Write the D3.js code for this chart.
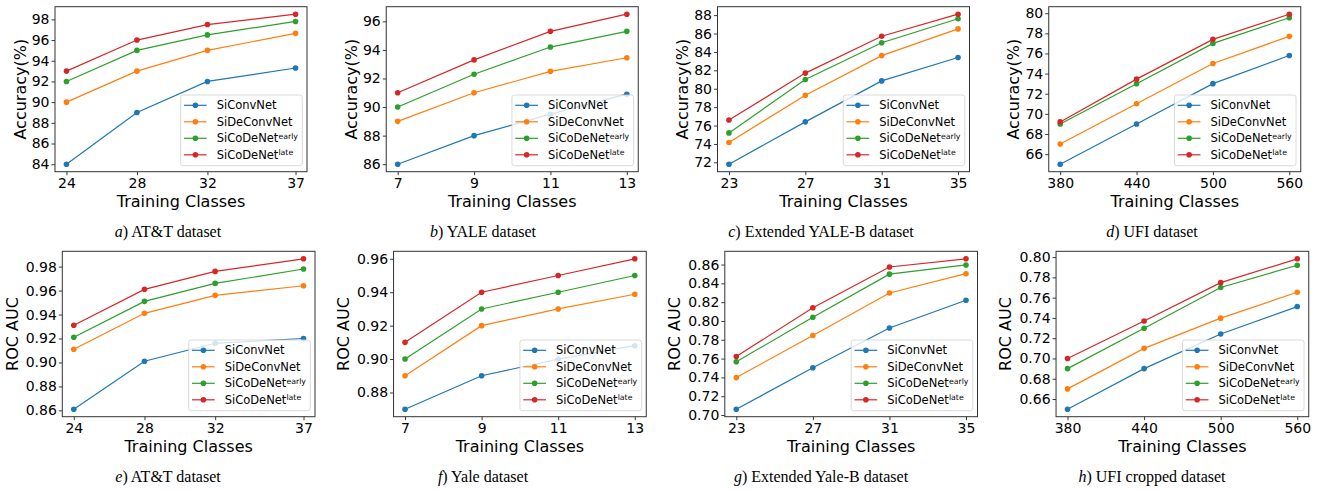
<!DOCTYPE html>
<html>
<head>
<meta charset="utf-8">
<script src="https://cdn.jsdelivr.net/npm/d3@7"></script>
<style>
  body { margin: 0; background: #fff; }
  svg { display: block; }
</style>
</head>
<body>
<svg id="chart" width="1325" height="491"></svg>
<script>
// Data //
const seriesNames = ["SiConvNet", "SiDeConvNet", "SiCoDeNet", "SiCoDeNet"];
const seriesSup = ["", "", "early", "late"];
const seriesColors = ["#1f77b4", "#ff7f0e", "#2ca02c", "#d62728"];

// x categories
const attClasses = [24, 28, 32, 37];
const yaleClasses = [7, 9, 11, 13];
const yaleBClasses = [23, 27, 31, 35];
const ufiClasses = [380, 440, 500, 560];

// accuracy (%) : SiConvNet, SiDeConvNet, SiCoDeNet early, SiCoDeNet late
const attAcc = [
    [84, 89, 92, 93.3],
    [90, 93, 95, 96.65],
    [92, 95, 96.5, 97.8],
    [93, 96, 97.5, 98.5]
];
const yaleAcc = [
    [86, 88, 89.5, 90.9],
    [89, 91, 92.5, 93.45],
    [90, 92.3, 94.2, 95.3],
    [91, 93.3, 95.3, 96.5]
];
const yaleBAcc = [
    [71.8, 76.4, 80.85, 83.4],
    [74.15, 79.3, 83.6, 86.5],
    [75.2, 81.0, 85.0, 87.6],
    [76.6, 81.7, 85.7, 88.1]
];
const ufiAcc = [
    [65.0, 69.0, 73.0, 75.8],
    [67.0, 71.0, 75.0, 77.7],
    [69.0, 73.0, 77.0, 79.55],
    [69.2, 73.45, 77.4, 79.9]
];

// ROC AUC
const attAuc = [
    [0.861, 0.901, 0.916, 0.920],
    [0.911, 0.941, 0.956, 0.964],
    [0.921, 0.951, 0.966, 0.978],
    [0.931, 0.961, 0.976, 0.9865]
];
const yaleAuc = [
    [0.870, 0.890, 0.900, 0.908],
    [0.890, 0.920, 0.930, 0.9388],
    [0.900, 0.930, 0.940, 0.950],
    [0.910, 0.940, 0.950, 0.960]
];
const yaleBAuc = [
    [0.7062, 0.7502, 0.7926, 0.8220],
    [0.7398, 0.7846, 0.8298, 0.8503],
    [0.7566, 0.8040, 0.8498, 0.8596],
    [0.7623, 0.8140, 0.8574, 0.8661]
];
const ufiAuc = [
    [0.650, 0.690, 0.7242, 0.7512],
    [0.670, 0.710, 0.7398, 0.7653],
    [0.690, 0.7298, 0.770, 0.792],
    [0.700, 0.7370, 0.7748, 0.7983]
];

// tick labels
const attAccTicks = [84, 86, 88, 90, 92, 94, 96, 98];
const yaleAccTicks = [86, 88, 90, 92, 94, 96];
const yaleBAccTicks = [72, 74, 76, 78, 80, 82, 84, 86, 88];
const ufiAccTicks = [66, 68, 70, 72, 74, 76, 78, 80];
const attAucTicks = [0.86, 0.88, 0.90, 0.92, 0.94, 0.96, 0.98];
const yaleAucTicks = [0.88, 0.90, 0.92, 0.94, 0.96];
const yaleBAucTicks = [0.70, 0.72, 0.74, 0.76, 0.78, 0.80, 0.82, 0.84, 0.86];
const ufiAucTicks = [0.66, 0.68, 0.70, 0.72, 0.74, 0.76, 0.78, 0.80];

// captions: [letter, rest]
const captions = [
    ["a", ") AT&T dataset"], ["b", ") YALE dataset"],
    ["c", ") Extended YALE-B dataset"], ["d", ") UFI dataset"],
    ["e", ") AT&T dataset"], ["f", ") Yale dataset"],
    ["g", ") Extended Yale-B dataset"], ["h", ") UFI cropped dataset"]
];

const panels = [
    { xs: attClasses, ys: attAcc, ticks: attAccTicks, ylabel: "Accuracy(%)" },
    { xs: yaleClasses, ys: yaleAcc, ticks: yaleAccTicks, ylabel: "Accuracy(%)" },
    { xs: yaleBClasses, ys: yaleBAcc, ticks: yaleBAccTicks, ylabel: "Accuracy(%)" },
    { xs: ufiClasses, ys: ufiAcc, ticks: ufiAccTicks, ylabel: "Accuracy(%)" },
    { xs: attClasses, ys: attAuc, ticks: attAucTicks, ylabel: "ROC AUC", fmt: ".2f" },
    { xs: yaleClasses, ys: yaleAuc, ticks: yaleAucTicks, ylabel: "ROC AUC", fmt: ".2f" },
    { xs: yaleBClasses, ys: yaleBAuc, ticks: yaleBAucTicks, ylabel: "ROC AUC", fmt: ".2f" },
    { xs: ufiClasses, ys: ufiAuc, ticks: ufiAucTicks, ylabel: "ROC AUC", fmt: ".2f" }
];

/* Canvas */
const svg = d3.select("#chart");
const slotW = 331.25;
const captionX = [168, 483, 821, 1152];   // caption centres per column
const font = "'DejaVu Sans', sans-serif";

// pad domain by 5% like matplotlib
function padded(vals) {
    const [lo, hi] = d3.extent(vals);
    const m = (hi - lo) * 0.05;
    return [lo - m, hi + m];
}

function drawPanel(p, i) {
    const col = i % 4, row = Math.floor(i / 4);
    const left = row === 0 ? 55 : 62.3;
    const right = row === 0 ? 307 : 315;
    const top = row === 0 ? 6.7 : 251.3;
    const bottom = row === 0 ? 171.7 : 416.7;
    const w = right - left, h = bottom - top;

    const g = svg.append("g")
        .attr("transform", `translate(${col * slotW + left},${top})`);

    const xScale = d3.scaleLinear().domain(padded(p.xs)).range([0, w]);
    const yScale = d3.scaleLinear().domain(padded(p.ys.flat())).range([h, 0]);

    /* Axes */
    const xAxis = d3.axisBottom(xScale)
        .tickValues(p.xs)
        .tickFormat(d3.format("d"))
        .tickSize(3.5)
        .tickPadding(2.5);
    const yAxis = d3.axisLeft(yScale)
        .tickValues(p.ticks)
        .tickFormat(p.fmt ? d3.format(p.fmt) : d3.format("d"))
        .tickSize(3.5)
        .tickPadding(2);

    g.append("g")
        .attr("transform", `translate(0,${h})`)
        .call(xAxis)
        .call(a => a.select(".domain").remove())
        .selectAll("text")
        .attr("font-family", font)
        .attr("font-size", "14px")
        .attr("fill", "#000");

    g.append("g")
        .call(yAxis)
        .call(a => a.select(".domain").remove())
        .selectAll("text")
        .attr("font-family", font)
        .attr("font-size", "14px")
        .attr("fill", "#000");

    g.selectAll(".tick line").attr("stroke", "#222").attr("stroke-width", 0.9);

    /* Lines */
    const line = d3.line()
        .x((d, k) => xScale(p.xs[k]))
        .y(d => yScale(d));

    p.ys.forEach((vals, s) => {
        g.append("path")
            .datum(vals)
            .attr("fill", "none")
            .attr("stroke", seriesColors[s])
            .attr("stroke-width", 1.2)
            .attr("d", line);
        g.selectAll(null)
            .data(vals)
            .enter()
            .append("circle")
            .attr("cx", (d, k) => xScale(p.xs[k]))
            .attr("cy", d => yScale(d))
            .attr("r", 2.8)
            .attr("fill", seriesColors[s]);
    });

    /* Frame */
    g.append("rect")
        .attr("width", w)
        .attr("height", h)
        .attr("fill", "none")
        .attr("stroke", "#333")
        .attr("stroke-width", 1);

    /* Legend */
    const lw = 121.6, lh = 70.7;
    const legend = g.append("g")
        .attr("transform", `translate(${w - 4.7 - lw},${h - 6 - lh})`);

    legend.append("rect")
        .attr("width", lw)
        .attr("height", lh)
        .attr("rx", 2.5)
        .attr("fill", "#fff")
        .attr("fill-opacity", 0.8)
        .attr("stroke", "#d0d0d0")
        .attr("stroke-width", 0.8);

    seriesNames.forEach((name, s) => {
        const y = 10.3 + s * 16.5;
        legend.append("line")
            .attr("x1", 3.3).attr("x2", 26)
            .attr("y1", y).attr("y2", y)
            .attr("stroke", seriesColors[s])
            .attr("stroke-width", 1.2);
        legend.append("circle")
            .attr("cx", 14.7).attr("cy", y).attr("r", 2.8)
            .attr("fill", seriesColors[s]);
        const t = legend.append("text")
            .attr("x", 36)
            .attr("y", y)
            .attr("dy", "0.36em")
            .attr("font-family", font)
            .attr("font-size", "11.5px")
            .attr("fill", "#000")
            .text(name);
        if (seriesSup[s]) {
            t.append("tspan")
                .attr("dy", "-0.45em")
                .attr("font-size", "7.8px")
                .text(seriesSup[s]);
        }
    });

    /* Axis labels */
    g.append("text")
        .attr("x", w / 2)
        .attr("y", h + 35)
        .attr("text-anchor", "middle")
        .attr("font-family", font)
        .attr("font-size", "16px")
        .attr("fill", "#000")
        .text("Training Classes");

    const ylx = row === 0 ? 20 - left : 12 - left;
    g.append("text")
        .attr("transform", `translate(${ylx},${h / 2}) rotate(-90)`)
        .attr("text-anchor", "middle")
        .attr("dy", "0.35em")
        .attr("font-family", font)
        .attr("font-size", "16px")
        .attr("fill", "#000")
        .text(p.ylabel);

    /* Caption */
    const cap = svg.append("text")
        .attr("x", captionX[col])
        .attr("y", row === 0 ? 237 : 482)
        .attr("text-anchor", "middle")
        .attr("font-family", "'Liberation Serif', serif")
        .attr("font-size", "16px")
        .attr("fill", "#000");
    cap.append("tspan").attr("font-style", "italic").text(captions[i][0]);
    cap.append("tspan").text(captions[i][1]);
}

panels.forEach(drawPanel);
</script>
</body>
</html>
